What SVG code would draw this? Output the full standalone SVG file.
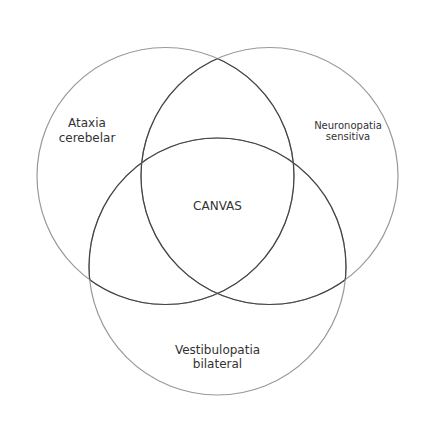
<svg xmlns="http://www.w3.org/2000/svg" width="443" height="423" viewBox="0 0 443 423">
<style>
.c{fill:none;stroke:#999;stroke-width:1.2}
.d{fill:none;stroke:#444;stroke-width:1.2}
text{font-family:"DejaVu Sans",sans-serif;fill:#333;text-anchor:middle}
.l{font-size:12px}
.s{font-size:10px}
</style>
<defs>
<clipPath id="notA"><circle cx="269.5" cy="176" r="128.5"/><circle cx="217.5" cy="266.5" r="128.5"/></clipPath>
<clipPath id="notB"><circle cx="165.5" cy="176" r="128.5"/><circle cx="217.5" cy="266.5" r="128.5"/></clipPath>
<clipPath id="notC"><circle cx="165.5" cy="176" r="128.5"/><circle cx="269.5" cy="176" r="128.5"/></clipPath>
</defs>
<rect width="443" height="423" fill="#fff"/>
<g id="connectors"></g>
<g id="ataxia">
<circle class="c" cx="165.5" cy="176" r="128.5"/>
<circle class="d" cx="165.5" cy="176" r="128.5" clip-path="url(#notA)"/>
<text class="l" x="87" y="127">Ataxia</text>
<text class="l" x="87" y="142">cerebelar</text>
</g>
<g id="neuronopatia">
<circle class="c" cx="269.5" cy="176" r="128.5"/>
<circle class="d" cx="269.5" cy="176" r="128.5" clip-path="url(#notB)"/>
<text class="s" x="348" y="129">Neuronopatia</text>
<text class="s" x="348" y="140">sensitiva</text>
</g>
<g id="vestibulopatia">
<circle class="c" cx="217.5" cy="266.5" r="128.5"/>
<circle class="d" cx="217.5" cy="266.5" r="128.5" clip-path="url(#notC)"/>
<text class="l" x="217.5" y="354">Vestibulopatia</text>
<text class="l" x="217.5" y="368">bilateral</text>
</g>
<g id="canvas">
<text class="l" x="217.5" y="210">CANVAS</text>
</g>
</svg>
